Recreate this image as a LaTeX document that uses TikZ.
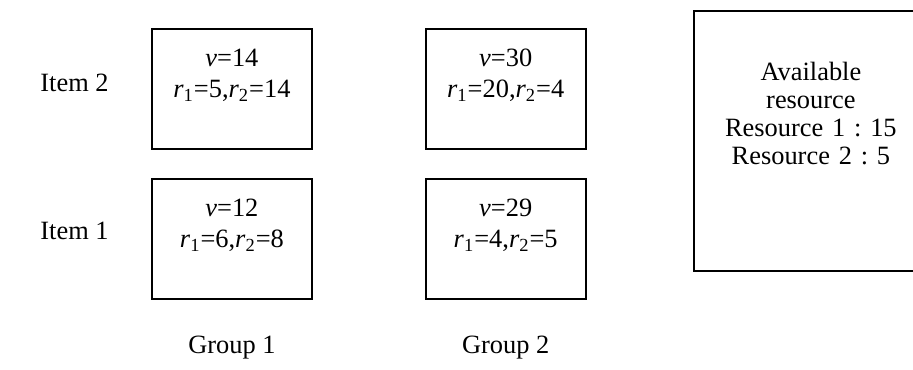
\documentclass[tikz,border=0pt]{standalone}
\usepackage{fontspec}
\setmainfont{Liberation Serif}
\usetikzlibrary{positioning}

\newcommand{\rsub}[1]{\textit{r}\textsubscript{#1}}

\begin{document}
\frenchspacing
\begin{tikzpicture}[x=0.5pt,y=-0.5pt,font=\fontsize{13.2}{14}\selectfont,
  itembox/.style={draw,line width=0.9pt,inner sep=0pt,text width=80pt,align=center,
                  font=\fontsize{13.2}{15.5}\selectfont,
                  minimum height=60pt,text height=19pt,text depth=41pt},
  sidelabel/.style={inner sep=0pt}]
  \useasboundingbox (0,0) rectangle (913,369);
  \clip (0,0) rectangle (913,369);

  \node[itembox,anchor=north west] (g1i2) at (151,28)
    {\textit{v}=14\\ \rsub{1}=5,\rsub{2}=14};
  \node[itembox,right=56pt of g1i2] (g2i2)
    {\textit{v}=30\\ \rsub{1}=20,\rsub{2}=4};
  \node[itembox,below=14pt of g1i2] (g1i1)
    {\textit{v}=12\\ \rsub{1}=6,\rsub{2}=8};
  \node[itembox,below=14pt of g2i2] (g2i1)
    {\textit{v}=29\\ \rsub{1}=4,\rsub{2}=5};

  \node[itembox,anchor=north west,text width=117pt,minimum height=130pt,
        font=\fontsize{13.2}{14}\selectfont,
        text height=35pt,text depth=95pt] (avail) at (693,10)
    {Available\\ resource\\ Resource 1 : 15\\ Resource 2 : 5};

  \node[sidelabel,left=21pt of g1i2,yshift=3pt] (item2) {Item 2};
  \node[sidelabel,left=21pt of g1i1,yshift=4pt] (item1) {Item 1};
  \node[sidelabel,below=18pt of g1i1] (group1) {Group 1};
  \node[sidelabel,below=18pt of g2i1] (group2) {Group 2};
\end{tikzpicture}
\end{document}
